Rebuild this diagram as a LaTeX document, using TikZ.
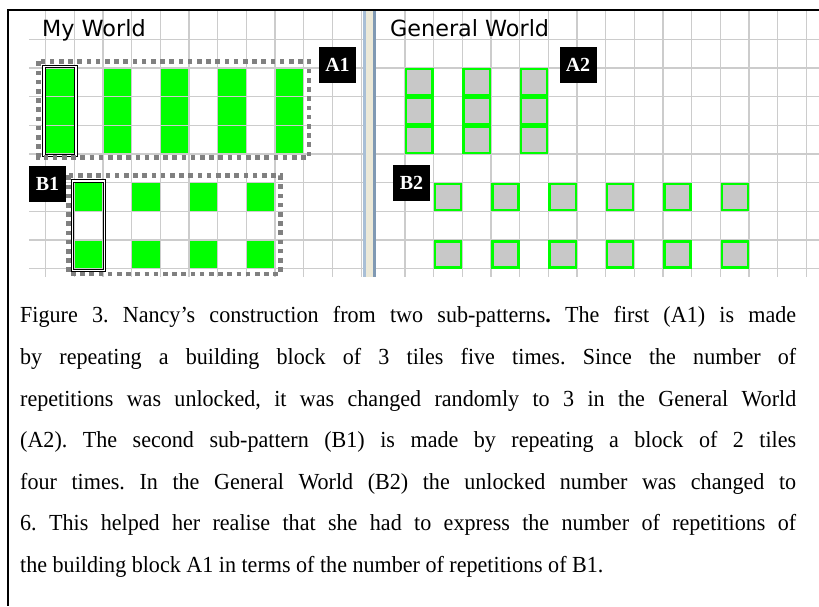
\documentclass[tikz,border=0pt]{standalone}
\usepackage{fontspec}
\setmainfont{Liberation Serif}
\newfontfamily\capfont[FakeStretch=0.96]{Liberation Serif}
\newfontfamily\uifont{DejaVu Sans}
\definecolor{gridgray}{HTML}{CCCCCC}
\definecolor{tgreen}{HTML}{00FF00}
\definecolor{tilegray}{HTML}{C8C8C8}
\definecolor{dotgray}{HTML}{808080}
\definecolor{divblue}{HTML}{A9BFD6}
\definecolor{divbeige}{HTML}{ECE9D8}
\definecolor{divdark}{HTML}{8099B3}
\tikzset{
  gridline/.style={draw=gridgray, line width=1.3pt},
  greencell/.style={fill=tgreen},
  graytile/.style={fill=tilegray, draw=tgreen, line width=2.4pt},
  blockframe/.style={draw=black, double=white, line width=1pt, double distance=1.3pt},
  dotframe/.style={draw=dotgray, line width=4.5pt, dash pattern=on 4.6pt off 4.6pt},
  tag/.style={fill=black, text=white, inner sep=0pt, minimum width=37pt, minimum height=36pt, font=\fontsize{20}{20}\selectfont\bfseries},
  worldtitle/.style={anchor=base west, inner sep=0pt, font=\uifont\fontsize{22.3}{22}\selectfont}
}
\begin{document}
\begin{tikzpicture}[x=1pt, y=-1pt]
\useasboundingbox (0,0) rectangle (819,606);
\fill[white] (0,0) rectangle (819,606);
\def\c{28.68}
% ---- left grid
\foreach \k in {1,...,12} {
  \draw[gridline] ({17+\k*\c},10) -- ({17+\k*\c},277);
}
\foreach \j in {1,...,9} {
  \draw[gridline] (29,{10.6+\j*\c}) -- (363,{10.6+\j*\c});
}
% ---- right grid
\foreach \k in {1,...,15} {
  \draw[gridline] ({376.3+\k*\c},10) -- ({376.3+\k*\c},277);
}
\foreach \j in {1,...,9} {
  \draw[gridline] (376,{10.6+\j*\c}) -- (819,{10.6+\j*\c});
}
% ---- divider
\fill[divblue] (363.3,10) rectangle (365.7,277);
\fill[divbeige] (365.7,10) rectangle (372.7,277);
\fill[divdark] (372.7,10) rectangle (375.6,277);
% ---- A1 tiles (green, 3 high, columns 1,3,5,7,9)
\foreach \k in {1,3,5,7,9} {
  \foreach \j in {2,3,4} {
    \fill[greencell] ({17+\k*\c+0.7},{10.6+\j*\c+0.7}) rectangle ({17+(\k+1)*\c-0.7},{10.6+(\j+1)*\c-0.7});
  }
}
% ---- B1 tiles (columns 2,4,6,8 ; rows 6 and 8)
\foreach \k in {2,4,6,8} {
  \foreach \j in {6,8} {
    \fill[greencell] ({17+\k*\c+0.7},{10.6+\j*\c+0.7}) rectangle ({17+(\k+1)*\c-0.7},{10.6+(\j+1)*\c-0.7});
  }
}
% ---- A2 tiles
\foreach \k in {0,2,4} {
  \foreach \j in {2,3,4} {
    \draw[graytile] ({376.3+(\k+1)*\c+1.3},{10.6+\j*\c+1.3}) rectangle ({376.3+(\k+2)*\c-1.3},{10.6+(\j+1)*\c-1.3});
  }
}
% ---- B2 tiles
\foreach \k in {1,3,5,7,9,11} {
  \foreach \j in {6,8} {
    \draw[graytile] ({376.3+(\k+1)*\c+1.3},{10.6+\j*\c+1.3}) rectangle ({376.3+(\k+2)*\c-1.3},{10.6+(\j+1)*\c-1.3});
  }
}
% ---- building block frames
\draw[blockframe] ({17+\c-1.6},{10.6+2*\c-1.6}) rectangle ({17+2*\c+1.6},{10.6+5*\c+1.6});
\draw[blockframe] ({17+2*\c-1.6},{10.6+6*\c-1.6}) rectangle ({17+3*\c+1.6},{10.6+9*\c+1.6});
% ---- dotted sub-pattern frames
\draw[dotframe] (38.5,61.3) rectangle (309,157.5);
\draw[dotframe] (68.3,175.3) rectangle (280.5,273.8);
% ---- frame of figure
\draw[black, line width=2pt] (7.5,10) -- (819,10);
\draw[black, line width=2pt] (7.5,9) -- (7.5,606);
% ---- titles
\node[worldtitle] (myworld) at (42,36) {My World};
\node[worldtitle] (genworld) at (390,36) {General World};
% ---- tags
\node[tag] (a1) at (337.5,65) {A1};
\node[tag] (b1) at (47.5,184) {B1};
\node[tag] (a2) at (578,65) {A2};
\node[tag] (b2) at (411.5,183) {B2};
% ---- caption
\node[anchor=north west, inner sep=0pt, text width=776pt, align=justify,
      font=\capfont\fontsize{23}{41.6}\selectfont\frenchspacing] (cap) at (20,306.5) {%
Figure 3. Nancy’s construction from two sub-patterns\textbf{.} The first (A1) is made\linebreak
by repeating a building block of 3 tiles five times. Since the number of\linebreak
repetitions was unlocked, it was changed randomly to 3 in the General World\linebreak
(A2). The second sub-pattern (B1) is made by repeating a block of 2 tiles\linebreak
four times. In the General World (B2) the unlocked number was changed to\linebreak
6. This helped her realise that she had to express the number of repetitions of\linebreak
the building block A1 in terms of the number of repetitions of B1.};
\end{tikzpicture}
\end{document}
